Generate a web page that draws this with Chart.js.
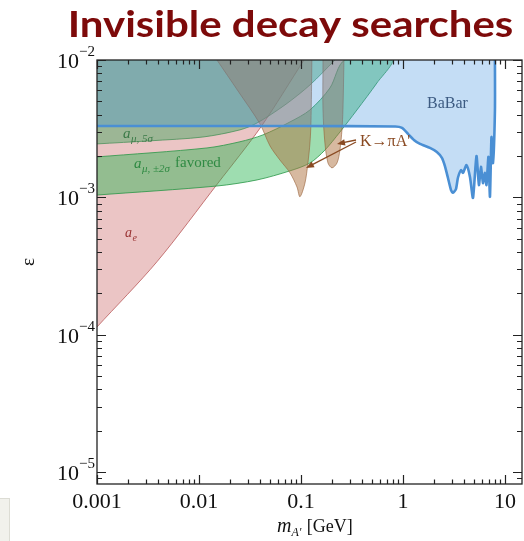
<!DOCTYPE html>
<html>
<head>
<meta charset="utf-8">
<script src="https://cdn.jsdelivr.net/npm/chart.js@4.4.1/dist/chart.umd.min.js"></script>
<style>
  html, body { margin: 0; padding: 0; background: #fff; }
  canvas { display: block; }
</style>
</head>
<body>
<canvas id="chart" width="524" height="541"></canvas>
<script>
// axis ranges and labelled ticks
const xMin = 0.001, xMax = 14.7;
const yMin = 8.2e-6, yMax = 1e-2;
const xTicks = [0.001, 0.01, 0.1, 1, 10];
const xTickLabels = ["0.001", "0.01", "0.1", "1", "10"];
const yTicks = [1e-5, 1e-4, 1e-3, 1e-2];
const yTickExps = ["\u22125", "\u22124", "\u22123", "\u22122"];

// a_e exclusion (everything above this edge)
const aeX = [0.001, 0.00387, 0.01535, 0.0405, 0.107];
const aeY = [1.14e-4, 3.40e-4, 1.27e-3, 3.26e-3, 1e-2];

// a_mu 5 sigma exclusion (above this edge)
const mu5X = [0.001, 0.00331, 0.01094, 0.0252, 0.0371, 0.0697, 0.1225, 0.2153];
const mu5Y = [2.45e-3, 2.58e-3, 2.75e-3, 3.10e-3, 3.48e-3, 4.71e-3, 6.58e-3, 1e-2];

// a_mu +-2 sigma favored band
const favUpX = [0.001, 0.01197, 0.0252, 0.0424, 0.078, 0.1225, 0.192, 0.27];
const favUpY = [1.97e-3, 2.29e-3, 2.54e-3, 2.85e-3, 3.54e-3, 4.33e-3, 6.25e-3, 1e-2];
const favLowX = [0.001, 0.015, 0.0371, 0.078, 0.1225, 0.1717, 0.241, 0.354, 0.556, 0.78];
const favLowY = [1.04e-3, 1.21e-3, 1.34e-3, 1.56e-3, 1.78e-3, 2.21e-3, 2.99e-3, 4.33e-3, 6.81e-3, 1e-2];

// K -> pi A' (two excluded spikes)
const kLeftX = [0.015, 0.0241, 0.0396, 0.0497, 0.0622, 0.078, 0.0914, 0.0977, 0.1094, 0.117, 0.1225, 0.1253, 0.128];
const kLeftY = [1e-2, 5.96e-3, 3.43e-3, 2.37e-3, 1.87e-3, 1.51e-3, 1.19e-3, 1.01e-3, 1.27e-3, 1.78e-3, 2.49e-3, 3.48e-3, 1e-2];
const kRightX = [0.1644, 0.1644, 0.1717, 0.184, 0.2015, 0.2256, 0.241, 0.2523, 0.258, 0.264];
const kRightY = [1e-2, 4.33e-3, 2.49e-3, 1.78e-3, 1.64e-3, 1.78e-3, 2.21e-3, 3.10e-3, 4.33e-3, 1e-2];

// BaBar mono-photon limit
const babarX = [0.001, 0.1, 0.84, 0.98, 1.12, 1.28, 1.47, 1.84, 2.15, 2.41, 2.58, 2.76, 2.96, 3.09, 3.31, 3.46,
  3.71, 3.88, 4.20, 4.54, 4.86, 5.26, 5.56, 5.82, 6.09, 6.37, 6.59, 6.89, 7.13, 7.38, 7.63, 7.98, 7.98];
const babarY = [3.31e-3, 3.31e-3, 3.28e-3, 3.20e-3, 2.90e-3, 2.62e-3, 2.45e-3, 2.29e-3, 2.14e-3, 1.94e-3, 1.69e-3,
  1.39e-3, 1.13e-3, 1.08e-3, 1.15e-3, 1.39e-3, 1.58e-3, 1.51e-3, 1.72e-3, 1.41e-3, 0.99e-3, 2.00e-3, 1.23e-3,
  1.67e-3, 1.27e-3, 1.51e-3, 1.23e-3, 1.97e-3, 1.01e-3, 2.75e-3, 1.78e-3, 4.33e-3, 1e-2];

function pts(xs, ys) {
  return xs.map((x, i) => ({ x: x, y: ys[i] }));
}

// band outline: upper edge out, lower edge back
const favShape = pts(favUpX, favUpY).concat(pts(favLowX, favLowY).reverse());

const serif = '"Liberation Serif", "DejaVu Serif", serif';

function drawSub(ctx, x, y, main, sub, size, color, italicSub) {
  ctx.fillStyle = color;
  ctx.font = "italic " + size + "px " + serif;
  ctx.fillText(main, x, y);
  const w = ctx.measureText(main).width;
  ctx.font = (italicSub ? "italic " : "") + Math.round(size * 0.7) + "px " + serif;
  ctx.fillText(sub, x + w + 0.5, y + size * 0.25);
  return w + 0.5 + ctx.measureText(sub).width;
}

function arrow(ctx, x1, y1, x2, y2, color) {
  const ang = Math.atan2(y2 - y1, x2 - x1);
  ctx.strokeStyle = color;
  ctx.fillStyle = color;
  ctx.lineWidth = 1.3;
  ctx.beginPath();
  ctx.moveTo(x1, y1);
  ctx.lineTo(x2 - 5 * Math.cos(ang), y2 - 5 * Math.sin(ang));
  ctx.stroke();
  ctx.beginPath();
  ctx.moveTo(x2, y2);
  ctx.lineTo(x2 - 8 * Math.cos(ang) + 3.2 * Math.sin(ang), y2 - 8 * Math.sin(ang) - 3.2 * Math.cos(ang));
  ctx.lineTo(x2 - 8 * Math.cos(ang) - 3.2 * Math.sin(ang), y2 - 8 * Math.sin(ang) + 3.2 * Math.cos(ang));
  ctx.closePath();
  ctx.fill();
}

// frame with inward ticks, labels and annotations
const decor = {
  id: "decor",
  afterDraw(chart) {
    const ctx = chart.ctx;
    const a = chart.chartArea;
    const sx = chart.scales.x, sy = chart.scales.y;
    ctx.save();

    ctx.strokeStyle = "#222";
    ctx.lineWidth = 1.3;
    ctx.strokeRect(a.left, a.top, a.right - a.left, a.bottom - a.top);

    ctx.lineWidth = 1.2;
    ctx.beginPath();
    for (let d = -3; d <= 1; d++) {
      for (let m = 1; m <= 9; m++) {
        const v = m * Math.pow(10, d);
        if (v < xMin * 0.999 || v > xMax) continue;
        const px = Math.round(sx.getPixelForValue(v)) + 0.5;
        const len = m === 1 ? 9 : 4.5;
        ctx.moveTo(px, a.bottom); ctx.lineTo(px, a.bottom - len);
        ctx.moveTo(px, a.top); ctx.lineTo(px, a.top + len);
      }
    }
    for (let d = -6; d <= -2; d++) {
      for (let m = 1; m <= 9; m++) {
        const v = m * Math.pow(10, d);
        if (v < yMin || v > yMax * 1.001) continue;
        const py = Math.round(sy.getPixelForValue(v)) + 0.5;
        const len = m === 1 ? 9 : 5;
        ctx.moveTo(a.left, py); ctx.lineTo(a.left + len, py);
        ctx.moveTo(a.right, py); ctx.lineTo(a.right - len, py);
      }
    }
    ctx.stroke();

    // tick labels
    ctx.fillStyle = "#111";
    ctx.textBaseline = "alphabetic";
    ctx.textAlign = "center";
    ctx.font = "22px " + serif;
    xTicks.forEach((v, i) => {
      ctx.fillText(xTickLabels[i], sx.getPixelForValue(v), a.bottom + 24);
    });
    ctx.textAlign = "left";
    yTicks.forEach((v, i) => {
      const py = sy.getPixelForValue(v);
      ctx.font = "15px " + serif;
      const we = ctx.measureText(yTickExps[i]).width;
      ctx.font = "22px " + serif;
      const wb = ctx.measureText("10").width;
      const x0 = a.left - 2 - we - wb;
      ctx.fillText("10", x0, py + 8);
      ctx.font = "15px " + serif;
      ctx.fillText(yTickExps[i], x0 + wb, py - 4);
    });

    // axis titles
    ctx.font = "italic 20px " + serif;
    let tx = 277;
    ctx.fillText("m", tx, 532);
    tx += ctx.measureText("m").width;
    ctx.font = "italic 12px " + serif;
    ctx.fillText("A'", tx, 536);
    tx += ctx.measureText("A'").width + 1;
    ctx.font = "18px " + serif;
    ctx.fillText(" [GeV]", tx, 532);

    ctx.save();
    ctx.translate(34, 262);
    ctx.rotate(-Math.PI / 2);
    ctx.textAlign = "center";
    ctx.font = "19px " + serif;
    ctx.fillText("\u03b5", 0, 0);
    ctx.restore();

    // region labels
    ctx.textAlign = "left";
    ctx.fillStyle = "#3d5b82";
    ctx.font = "16px " + serif;
    ctx.fillText("BaBar", 427, 108);

    ctx.fillStyle = "#8a4a22";
    ctx.fillText("K\u2192\u03c0A'", 360, 146);
    arrow(ctx, 356, 140, 337, 144, "#8a4a22");
    arrow(ctx, 356, 142, 306, 168, "#8a4a22");

    drawSub(ctx, 123, 138, "a", "\u03bc, 5\u03c3", 15, "#3b7a48", true);
    const w2 = drawSub(ctx, 134, 168, "a", "\u03bc, \u00b12\u03c3", 15, "#2f8a43", true);
    ctx.font = "15px " + serif;
    ctx.fillText("favored", 134 + w2 + 5, 167);
    drawSub(ctx, 125, 237, "a", "e", 14, "#9a3434", true);

    // heading, stretched so its ink spans x 70..513
    const head = "Invisible decay searches";
    ctx.fillStyle = "#7d0a0a";
    ctx.font = "bold 37px Lato, 'Open Sans', sans-serif";
    const hm = ctx.measureText(head);
    const inkW = hm.actualBoundingBoxLeft + hm.actualBoundingBoxRight;
    const k = 443 / inkW;
    ctx.save();
    ctx.translate(70, 37);
    ctx.scale(k, 1);
    ctx.fillText(head, hm.actualBoundingBoxLeft, 0);
    ctx.restore();

    // small pale box at the lower left corner of the page
    ctx.fillStyle = "#f1f1ec";
    ctx.fillRect(0, 498, 10, 43);
    ctx.strokeStyle = "#dcdcd4";
    ctx.lineWidth = 1;
    ctx.strokeRect(-1, 498.5, 10.5, 44);

    ctx.restore();
  }
};

const line = { showLine: true, pointRadius: 0, borderWidth: 1 };

new Chart(document.getElementById("chart"), {
  type: "scatter",
  data: {
    datasets: [
      Object.assign({}, line, {
        label: "BaBar",
        data: pts(babarX, babarY),
        fill: "end",
        backgroundColor: "rgba(70,150,225,0.32)",
        borderColor: "#4a8fd4",
        borderWidth: 2.6,
        tension: 0.2,
        order: 0
      }),
      Object.assign({}, line, {
        label: "K\u2192\u03c0A'",
        data: pts(kLeftX, kLeftY),
        fill: "shape",
        backgroundColor: "rgba(175,115,65,0.5)",
        borderColor: "rgba(150,95,55,0.6)",
        tension: 0.3,
        order: 1
      }),
      Object.assign({}, line, {
        label: "K\u2192\u03c0A' (2)",
        data: pts(kRightX, kRightY),
        fill: "shape",
        backgroundColor: "rgba(175,115,65,0.5)",
        borderColor: "rgba(150,95,55,0.6)",
        tension: 0.3,
        order: 2
      }),
      Object.assign({}, line, {
        label: "a_mu 2 sigma",
        data: favShape,
        fill: "shape",
        backgroundColor: "rgba(40,180,80,0.45)",
        borderColor: "rgba(40,150,70,0.8)",
        tension: 0.3,
        order: 3
      }),
      Object.assign({}, line, {
        label: "a_mu 5 sigma",
        data: pts(mu5X, mu5Y),
        fill: "end",
        backgroundColor: "rgba(60,165,90,0.45)",
        borderColor: "rgba(60,140,80,0.7)",
        tension: 0.3,
        order: 4
      }),
      Object.assign({}, line, {
        label: "a_e",
        data: pts(aeX, aeY),
        fill: "end",
        backgroundColor: "rgba(205,110,110,0.4)",
        borderColor: "rgba(185,90,90,0.8)",
        tension: 0.3,
        order: 5
      })
    ]
  },
  options: {
    responsive: false,
    animation: false,
    layout: { padding: { left: 97, top: 60, right: 2, bottom: 57 } },
    plugins: { legend: { display: false }, tooltip: { enabled: false } },
    scales: {
      x: { type: "logarithmic", min: xMin, max: xMax, display: false },
      y: { type: "logarithmic", min: yMin, max: yMax, display: false }
    }
  },
  plugins: [decor]
});
</script>
</body>
</html>
